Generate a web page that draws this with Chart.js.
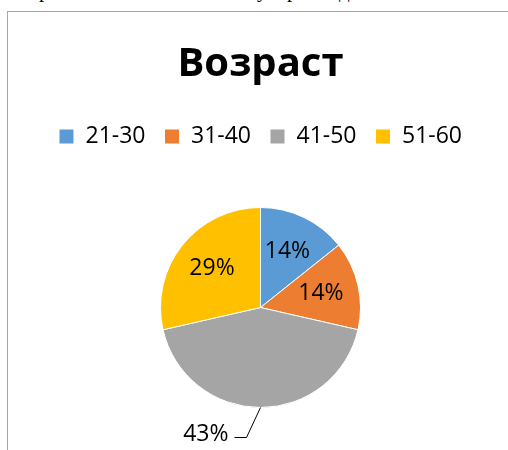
<!DOCTYPE html>
<html>
<head>
<meta charset="utf-8">
<script src="https://cdn.jsdelivr.net/npm/chart.js@4"></script>
<style>
  body { margin: 0; background: #fff; overflow: hidden; width: 508px; height: 450px; position: relative; }
  .frag { position: absolute; top: -20px; font-family: "Liberation Serif", serif; font-size: 21px; line-height: 21px; color: #000; }
  #box { position: absolute; left: 7px; top: 11px; width: 501px; height: 439px; border-left: 1px solid #a6a6a6; border-top: 1px solid #a6a6a6; }
  #wrap { position: absolute; left: 0; top: 0; width: 501px; height: 439px; }
</style>
</head>
<body>
<!-- bits of the line of text above the chart, mostly cut off by the window -->
<span class="frag" style="left:39px">р</span>
<span class="frag" style="left:257px">у</span>
<span class="frag" style="left:287px">р</span>
<span class="frag" style="left:339px">д</span>

<div id="box">
  <div id="wrap"><canvas id="ageChart"></canvas></div>
</div>

<script>
const categories = ['21-30', '31-40', '41-50', '51-60'];
const counts = [1, 1, 3, 2];
const sliceColors = ['#5B9BD5', '#ED7D31', '#A5A5A5', '#FFC000'];
const outsideLabel = [false, false, true, false];

const labelFont = '23px "Open Sans"';

// extra empty space under the legend so the pie sits lower and smaller
const legendGap = {
    id: 'legendGap',
    beforeLayout(chart) {
        const legend = chart.legend;
        if (!legend || legend._gapPatched) return;
        const fit = legend.fit;
        legend.fit = function () {
            fit.call(this);
            this.height += 49;
        };
        legend._gapPatched = true;
    }
};

// percent labels: inside the slice, or outside with a leader line
const pctLabels = {
    id: 'pctLabels',
    afterDatasetsDraw(chart) {
        const ctx = chart.ctx;
        const meta = chart.getDatasetMeta(0);
        const total = counts.reduce((a, b) => a + b, 0);
        ctx.save();
        ctx.font = labelFont;
        ctx.fillStyle = '#000';
        ctx.textBaseline = 'middle';
        meta.data.forEach((arc, i) => {
            const p = arc.getProps(['x', 'y', 'startAngle', 'endAngle', 'outerRadius'], true);
            const mid = (p.startAngle + p.endAngle) / 2;
            const txt = Math.round(counts[i] / total * 100) + '%';
            if (!outsideLabel[i]) {
                const r = p.outerRadius * 0.62;
                ctx.textAlign = 'center';
                ctx.fillText(txt, p.x + Math.cos(mid) * r, p.y + Math.sin(mid) * r);
            } else {
                const ax = p.x + Math.cos(mid) * p.outerRadius;
                const ay = p.y + Math.sin(mid) * p.outerRadius;
                ctx.strokeStyle = '#000';
                ctx.lineWidth = 1;
                ctx.beginPath();
                ctx.moveTo(ax, ay);
                ctx.lineTo(ax - 14, ay + 30);
                ctx.lineTo(ax - 26, ay + 30);
                ctx.stroke();
                ctx.textAlign = 'right';
                ctx.fillText(txt, ax - 32, ay + 27);
            }
        });
        ctx.restore();
    }
};

const ctx = document.getElementById('ageChart').getContext('2d');
const ageChart = new Chart(ctx, {
    type: 'pie',
    data: {
        labels: categories,
        datasets: [{
            data: counts,
            backgroundColor: sliceColors,
            borderColor: '#ffffff',
            borderWidth: 1
        }]
    },
    options: {
        responsive: true,
        maintainAspectRatio: false,
        animation: false,
        layout: {
            padding: { left: 4, right: 0, top: 0, bottom: 43 }
        },
        plugins: {
            title: {
                display: true,
                text: 'Возраст',
                color: '#000',
                font: { family: '"Open Sans"', size: 40, weight: 'bold' },
                padding: { top: 29, bottom: 17 }
            },
            legend: {
                position: 'top',
                labels: {
                    color: '#000',
                    font: { family: '"Open Sans"', size: 23 },
                    boxWidth: 15,
                    boxHeight: 15,
                    padding: 19
                }
            },
            tooltip: { enabled: false }
        }
    },
    plugins: [legendGap, pctLabels]
});
</script>
</body>
</html>
